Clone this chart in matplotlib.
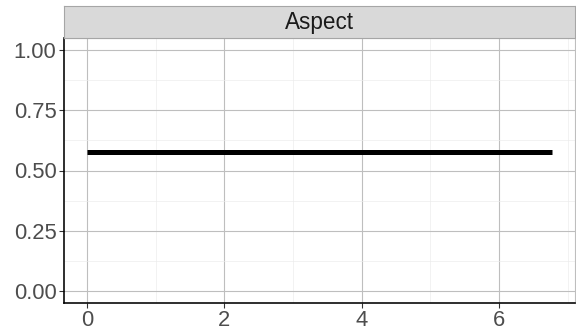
import numpy as np
import matplotlib
matplotlib.use("Agg")
import matplotlib.pyplot as plt

plt.rcParams['font.family'] = ['Liberation Sans', 'DejaVu Sans']

# Aspect series
x_vals = [0.0, 1.0, 2.0, 3.0, 4.0, 5.0, 6.0, 6.77]
y_vals = [0.577, 0.577, 0.577, 0.577, 0.577, 0.577, 0.577, 0.577]
panel_title = "Aspect"
x_ticks = [0, 2, 4, 6]
y_ticks = [0.00, 0.25, 0.50, 0.75, 1.00]
y_tick_labels = ["0.00", "0.25", "0.50", "0.75", "1.00"]

W, H, DPI = 576, 336, 72
fig = plt.figure(figsize=(W / DPI, H / DPI), dpi=DPI)

left, right = 64 / W, 575 / W
bottom, top = 1 - 303 / H, 1 - 38 / H
strip_top = 1 - 6 / H

ax = fig.add_axes([left, bottom, right - left, top - bottom])
ax.plot(x_vals, y_vals, color="black", lw=5, solid_capstyle="butt", zorder=3)

xmin, xmax = min(x_vals), max(x_vals)
xpad = 0.05 * (xmax - xmin)
ax.set_xlim(xmin - xpad, xmax + xpad)
ax.set_ylim(-0.05, 1.05)

ax.set_xticks(x_ticks)
ax.set_xticks([1, 3, 5, 7], minor=True)
ax.set_yticks(y_ticks)
ax.set_yticklabels(y_tick_labels)
ax.set_yticks([0.125, 0.375, 0.625, 0.875], minor=True)

ax.grid(which="major", color="#bebebe", lw=1.1)
ax.grid(which="minor", color="#ebebeb", lw=0.6)
ax.set_axisbelow(True)

for s in ["top", "right"]:
    ax.spines[s].set_color("#bebebe")
    ax.spines[s].set_linewidth(1.1)
for s in ["left", "bottom"]:
    ax.spines[s].set_color("black")
    ax.spines[s].set_linewidth(1.6)

ax.tick_params(which="major", length=5, width=1.1, color="#333333",
               labelsize=22, labelcolor="#4d4d4d", pad=2.5)
ax.tick_params(which="minor", length=0)

# facet strip
sax = fig.add_axes([left, top, right - left, strip_top - top])
sax.set_facecolor("#d9d9d9")
sax.set_xticks([])
sax.set_yticks([])
for s in sax.spines.values():
    s.set_color("#a6a6a6")
    s.set_linewidth(1.1)
sax.text(0.5, 0.47, panel_title, ha="center", va="center",
         fontsize=22.5, color="#1a1a1a", transform=sax.transAxes)

fig.savefig("out.png", dpi=DPI)
